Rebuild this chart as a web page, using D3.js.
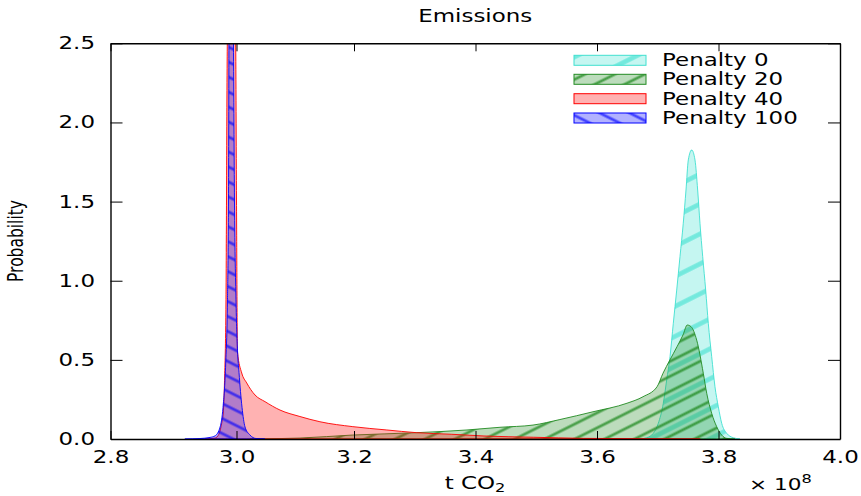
<!DOCTYPE html>
<html><head><meta charset="utf-8">
<script src="https://cdn.jsdelivr.net/npm/d3@7"></script>
<style>html,body{margin:0;padding:0;background:#fff;}svg{display:block;}</style>
</head><body>
<svg id="chart" width="861" height="496"></svg>
<script>
// ---------- data ----------
const title = "Emissions";
const seriesNames = ["Penalty 0", "Penalty 20", "Penalty 40", "Penalty 100"];
const xTicks = [2.8, 3.0, 3.2, 3.4, 3.6, 3.8, 4.0];
const yTicks = [0, 0.5, 1.0, 1.5, 2.0, 2.5];

const p0X = [3.6708, 3.6818, 3.6927, 3.7009, 3.7091, 3.7147, 3.7202, 3.7256, 3.7312, 3.7366, 3.742, 3.7465, 3.7503, 3.7559, 3.7613, 3.7657, 3.7695, 3.774, 3.7789, 3.7832, 3.7888, 3.7942, 3.7997, 3.8053, 3.8135, 3.8244, 3.8354];
const p0Y = [0, 0.008, 0.036, 0.099, 0.225, 0.373, 0.52, 0.731, 0.941, 1.152, 1.363, 1.573, 1.763, 1.826, 1.763, 1.573, 1.363, 1.152, 0.941, 0.731, 0.52, 0.33, 0.204, 0.099, 0.036, 0.008, 0];

const p20X = [3.023, 3.108, 3.198, 3.3037, 3.386, 3.4403, 3.4947, 3.539, 3.5934, 3.6494, 3.6757, 3.6988, 3.7086, 3.7201, 3.7317, 3.7415, 3.7486, 3.7547, 3.7641, 3.775, 3.7806, 3.7888, 3.797, 3.8052, 3.8134, 3.827];
const p20Y = [0, 0.006, 0.025, 0.04, 0.057, 0.074, 0.088, 0.123, 0.172, 0.226, 0.267, 0.33, 0.415, 0.5, 0.583, 0.657, 0.72, 0.71, 0.625, 0.415, 0.289, 0.162, 0.078, 0.025, 0.004, 0];

const p40X = [2.95, 2.966, 2.972, 2.9765, 2.979, 2.981, 2.9833, 2.9854, 2.992, 2.9987, 3.0, 3.0017, 3.0089, 3.0174, 3.0315, 3.0485, 3.074, 3.108, 3.142, 3.198, 3.254, 3.303, 3.36, 3.414, 3.496, 3.578, 3.661, 3.77];
const p40Y = [0, 0.006, 0.03, 0.1, 0.164, 0.37, 0.88, 2.5, 3.5, 2.5, 1.51, 0.55, 0.417, 0.354, 0.278, 0.236, 0.183, 0.142, 0.109, 0.078, 0.057, 0.04, 0.03, 0.019, 0.011, 0.004, 0.002, 0];

const p100X = [2.918, 2.942, 2.958, 2.966, 2.974, 2.9786, 2.9829, 2.9857, 2.9873, 2.988, 2.9913, 2.9952, 2.9968, 2.9992, 3.0017, 3.0043, 3.0068, 3.0094, 3.0145, 3.023, 3.0332, 3.0485];
const p100Y = [0, 0.003, 0.01, 0.02, 0.076, 0.20, 0.48, 0.88, 1.51, 2.5, 4.0, 2.5, 1.51, 0.88, 0.56, 0.42, 0.30, 0.20, 0.076, 0.025, 0.003, 0];

const colors = ["#40e0d0", "#228b22", "#ff0000", "#0000ff"];
const hatchAngle = [-26.6, -26.6, null, 26.6];
const hatchGap = [26.8, 13.4, null, 13.4];
const hatchWidth = [4.6, 2.8, null, 2.8];
const hatchOpacity = [0.62, 0.72, 0, 0.62];

// ---------- layout ----------
const svg = d3.select("#chart");
const SX = 1.35; // horizontal text stretch
const FONT = "DejaVu Sans, Verdana, sans-serif";
const x = d3.scaleLinear().domain([2.8, 3.0, 3.2, 4.0]).range([110.5, 236.5, 354, 840]);
const y = d3.scaleLinear().domain([0, 2.5]).range([439, 43.3]);
const L = 110.5, R = 840, T = 43.3, B = 439;

const defs = svg.append("defs");
defs.append("clipPath").attr("id", "plotclip").append("rect")
  .attr("x", L).attr("y", T).attr("width", R - L).attr("height", B - T);

colors.forEach((c, i) => {
  if (hatchAngle[i] === null) return;
  const g = hatchGap[i];
  const p = defs.append("pattern").attr("id", "hatch" + i)
    .attr("patternUnits", "userSpaceOnUse")
    .attr("width", 40).attr("height", g)
    .attr("patternTransform", `rotate(${hatchAngle[i]})`);
  p.append("rect").attr("x", -1).attr("y", g / 2 - hatchWidth[i] / 2)
    .attr("width", 42).attr("height", hatchWidth[i])
    .attr("fill", c).attr("fill-opacity", hatchOpacity[i]);
});

const series = [
  {X: p0X, Y: p0Y}, {X: p20X, Y: p20Y}, {X: p40X, Y: p40Y}, {X: p100X, Y: p100Y}
];

const area = d3.area().x(d => x(d[0])).y0(y(0)).y1(d => y(d[1])).curve(d3.curveMonotoneX);

const plot = svg.append("g").attr("clip-path", "url(#plotclip)");
series.forEach((s, i) => {
  const pts = s.X.map((v, k) => [v, s.Y[k]]);
  const d = area(pts);
  plot.append("path").attr("d", d).attr("fill", colors[i]).attr("fill-opacity", 0.3).attr("stroke", "none");
  if (hatchAngle[i] !== null)
    plot.append("path").attr("d", d).attr("fill", `url(#hatch${i})`).attr("stroke", "none");
  plot.append("path").attr("d", d).attr("fill", "none").attr("stroke", colors[i])
    .attr("stroke-width", 1).attr("stroke-opacity", 0.9);
});

// ---------- axes ----------
function styleAxis(g) {
  g.select(".domain").attr("stroke", "#000").attr("stroke-width", 1.4);
  g.selectAll(".tick line").attr("stroke", "#000").attr("stroke-width", 1);
  g.selectAll(".tick text").attr("font-family", FONT).attr("font-size", 17)
    .attr("fill", "#000").attr("transform", `scale(${SX},1)`);
}
const fmt = d3.format(".1f");
svg.append("g").attr("transform", `translate(0,${B})`)
  .call(d3.axisBottom(x).tickValues(xTicks).tickFormat(fmt).tickSize(-8).tickSizeOuter(0).tickPadding(12))
  .call(styleAxis);
svg.append("g").attr("transform", `translate(0,${T})`)
  .call(d3.axisTop(x).tickValues(xTicks).tickFormat("").tickSize(-8).tickSizeOuter(0))
  .call(styleAxis);
svg.append("g").attr("transform", `translate(${L},0)`)
  .call(d3.axisLeft(y).tickValues(yTicks).tickFormat(fmt).tickSize(-12).tickSizeOuter(0).tickPadding(11.5))
  .call(styleAxis);
svg.append("g").attr("transform", `translate(${R},0)`)
  .call(d3.axisRight(y).tickValues(yTicks).tickFormat("").tickSize(-12).tickSizeOuter(0))
  .call(styleAxis);

// ---------- texts ----------
function stretchedText(px, py, anchor, size) {
  return svg.append("text").attr("transform", `translate(${px},${py}) scale(${SX},1)`)
    .attr("text-anchor", anchor).attr("font-family", FONT).attr("font-size", size).attr("fill", "#000");
}
stretchedText((L + R) / 2, 22, "middle", 17).text(title);

const xl = stretchedText(475, 489, "middle", 17);
xl.append("tspan").text("t CO");
xl.append("tspan").attr("font-size", 12).attr("dy", 3).text("2");

const off = stretchedText(749, 490, "start", 16);
off.append("tspan").text("× 10");
off.append("tspan").attr("font-size", 12).attr("dy", -7).text("8");

svg.append("text").attr("transform", `translate(23,241) scale(${SX},1) rotate(-90)`)
  .attr("text-anchor", "middle").attr("font-family", FONT).attr("font-size", 15.5).attr("fill", "#000")
  .text("Probability");

// ---------- legend ----------
const legY = [60.3, 79.3, 98.7, 118];
seriesNames.forEach((name, i) => {
  const ry = legY[i] - 5;
  const r = svg.append("g");
  r.append("rect").attr("x", 574).attr("y", ry).attr("width", 72).attr("height", 10)
    .attr("fill", colors[i]).attr("fill-opacity", 0.3);
  if (hatchAngle[i] !== null)
    r.append("rect").attr("x", 574).attr("y", ry).attr("width", 72).attr("height", 10)
      .attr("fill", `url(#hatch${i})`);
  r.append("rect").attr("x", 574).attr("y", ry).attr("width", 72).attr("height", 10)
    .attr("fill", "none").attr("stroke", colors[i]).attr("stroke-width", 1);
  stretchedText(662, legY[i] + 6, "start", 17).text(name);
});
</script>
</body></html>
